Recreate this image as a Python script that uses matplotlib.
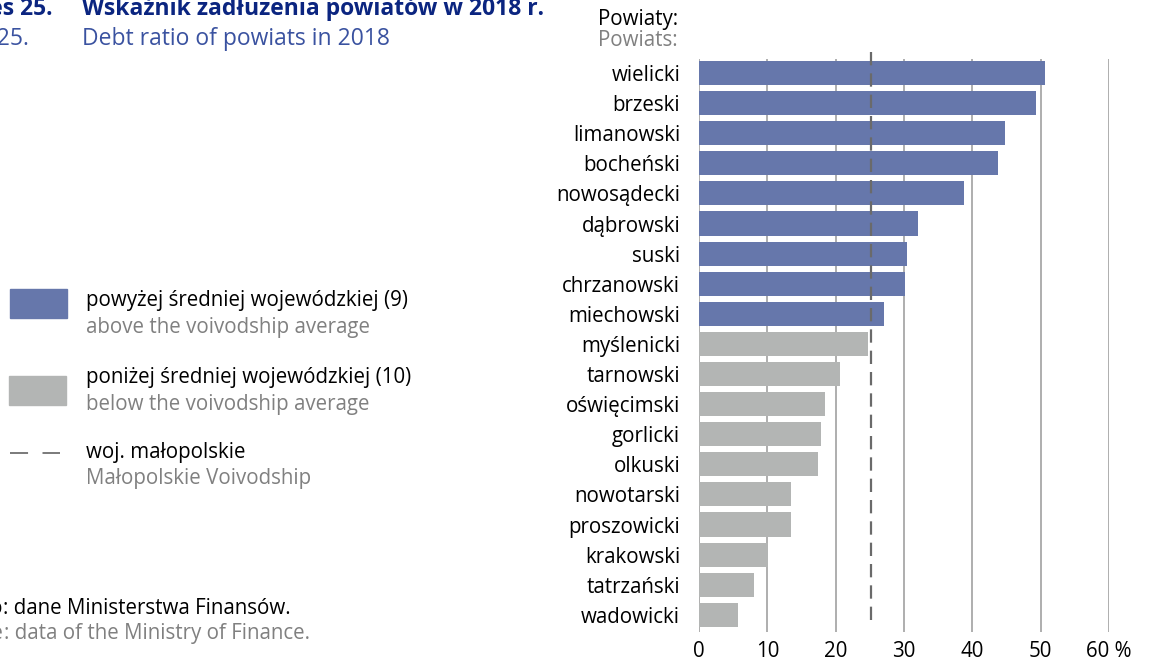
import matplotlib
matplotlib.use("Agg")
import matplotlib.pyplot as plt
from matplotlib.patches import Rectangle
from matplotlib.lines import Line2D

plt.rcParams["font.family"] = ["Open Sans", "DejaVu Sans"]

# ---- DATA ----
powiaty = ["wielicki", "brzeski", "limanowski", "bocheński", "nowosądecki",
           "dąbrowski", "suski", "chrzanowski", "miechowski", "myślenicki",
           "tarnowski", "oświęcimski", "gorlicki", "olkuski", "nowotarski",
           "proszowicki", "krakowski", "tatrzański", "wadowicki"]
debt_ratio = [50.7, 49.3, 44.8, 43.8, 38.8, 32.0, 30.5, 30.1, 27.0, 24.8,
              20.6, 18.5, 17.8, 17.4, 13.4, 13.4, 10.1, 8.0, 5.7]
woj_average = 25.1
x_ticks = [0, 10, 20, 30, 40, 50, 60]
x_ticklabels = ["0", "10", "20", "30", "40", "50", "60 %"]

BLUE = "#6677ab"
GRAY = "#b3b5b4"
NAVY = "#0b2580"
SUBBLUE = "#3a52a0"
TXTGRAY = "#808080"
FS = 14.8
FS_T = 16.5

W, H = 1150, 661
fig = plt.figure(figsize=(W / 100, H / 100), dpi=100)


def px(x, y):
    return x / W, 1 - y / H


# ---- AXES (pixel placement) ----
ax_l, ax_r, ax_t, ax_b = 699, 1109, 59, 632
ax = fig.add_axes([ax_l / W, 1 - ax_b / H, (ax_r - ax_l) / W, (ax_b - ax_t) / H])

colors = [BLUE if v > woj_average else GRAY for v in debt_ratio]
ypos = list(range(len(powiaty)))
ax.barh(ypos, debt_ratio, height=0.8, color=colors, zorder=2)

ax.set_xlim(0, 60)
ax.set_ylim(18.57, -0.465)
ax.set_xticks(x_ticks)
ax.set_xticklabels(x_ticklabels, fontsize=FS)
ax.set_yticks(ypos)
ax.set_yticklabels(powiaty, fontsize=FS)
ax.tick_params(axis="both", length=0, colors="black")
ax.tick_params(axis="y", pad=13.5)
ax.tick_params(axis="x", pad=6.5)
ax.xaxis.grid(True, color="#999999", linewidth=1.1, zorder=1)
ax.set_axisbelow(True)
for s in ax.spines.values():
    s.set_visible(False)

# average line
ax.axvline(woj_average, ymin=0.021, ymax=1.012, color="#6a6a6a", linewidth=1.6,
           dashes=(6.0, 3.6), clip_on=False, zorder=3)

# ---- TEXTS ----
fig.text(*px(53, 15), "Wykres 25.", ha="right", va="baseline", fontsize=FS_T,
         fontweight="bold", color=NAVY)
fig.text(*px(82, 15), "Wskaźnik zadłużenia powiatów w 2018 r.", ha="left",
         va="baseline", fontsize=FS_T, fontweight="bold", color=NAVY)
fig.text(*px(29, 45), "Chart 25.", ha="right", va="baseline", fontsize=FS_T,
         color=SUBBLUE)
fig.text(*px(82, 45), "Debt ratio of powiats in 2018", ha="left",
         va="baseline", fontsize=FS_T, color=SUBBLUE)

fig.text(*px(598, 25), "Powiaty:", ha="left", va="baseline", fontsize=FS)
fig.text(*px(598, 46), "Powiats:", ha="left", va="baseline", fontsize=FS,
         color=TXTGRAY)

# legend
fig.add_artist(Rectangle(px(10, 318), 57 / W, 29 / H, transform=fig.transFigure,
                         color=BLUE))
fig.add_artist(Rectangle(px(9, 405), 57 / W, 29 / H, transform=fig.transFigure,
                         color=GRAY))
fig.add_artist(Line2D([10 / W, 60 / W], [1 - 453 / H, 1 - 453 / H],
                      transform=fig.transFigure, color="#707070", linewidth=1.3,
                      dashes=(10, 8)))
legend_rows = [
    (306, "powyżej średniej wojewódzkiej (9)", "black"),
    (333, "above the voivodship average", TXTGRAY),
    (383, "poniżej średniej wojewódzkiej (10)", "black"),
    (410, "below the voivodship average", TXTGRAY),
    (458, "woj. małopolskie", "black"),
    (484, "Małopolskie Voivodship", TXTGRAY),
]
for y, txt, col in legend_rows:
    fig.text(*px(86, y), txt, ha="left", va="baseline", fontsize=FS, color=col)

# source
fig.text(*px(3, 614), "Źródło", ha="right", va="baseline", fontsize=FS)
fig.text(*px(3, 614), ": dane Ministerstwa Finansów.", ha="left",
         va="baseline", fontsize=FS)
fig.text(*px(4, 639), "Source", ha="right", va="baseline", fontsize=FS,
         color=TXTGRAY)
fig.text(*px(4, 639), ": data of the Ministry of Finance.", ha="left",
         va="baseline", fontsize=FS, color=TXTGRAY)

fig.savefig("out.png", dpi=100)
plt.close(fig)
